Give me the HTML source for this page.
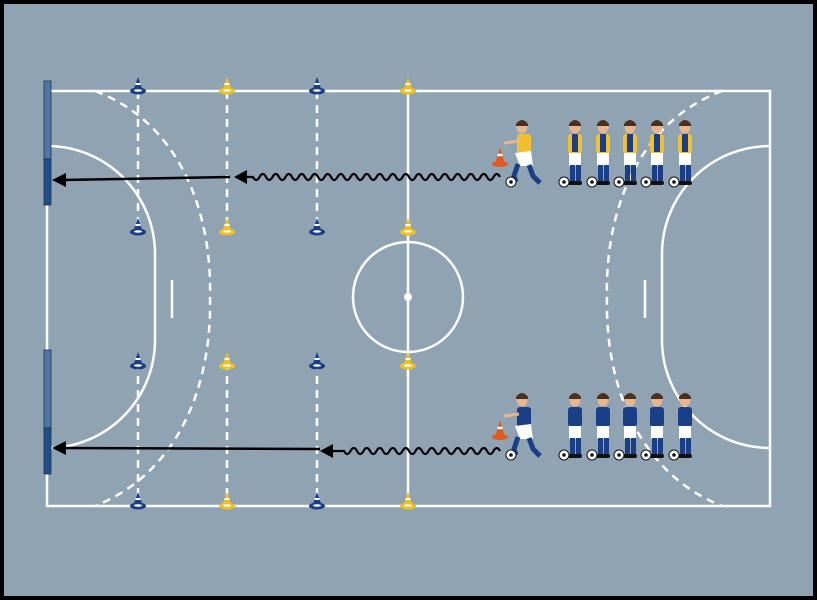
<!DOCTYPE html>
<html><head><meta charset="utf-8"><style>
html,body{margin:0;padding:0;background:#000;}
svg{display:block}
</style></head><body>
<svg id="s" width="817" height="600" viewBox="0 0 817 600" xmlns="http://www.w3.org/2000/svg">
<defs>
<g id="pl">
 <ellipse cx="0" cy="-59" rx="5.5" ry="6.5" fill="#e9b58f"/>
 <path d="M-6,-62 Q0,-70 6,-62 L6,-60 L-6,-60Z" fill="#4a3020"/>
 <rect x="-7" y="-52" width="14" height="20" rx="3" fill="var(--c)"/>
 <rect x="-3" y="-52" width="6" height="18" fill="#1b3f86"/>
 <rect x="-6" y="-33" width="12" height="13" fill="#fff"/>
 <rect x="-5" y="-21" width="5" height="16" fill="#1b3f86"/>
 <rect x="1" y="-21" width="5" height="16" fill="#1b3f86"/>
 <rect x="-7" y="-5" width="14" height="4" rx="2" fill="#111"/>
 <circle cx="-11" cy="-4" r="5" fill="#fff" stroke="#111" stroke-width="1"/>
 <circle cx="-11" cy="-4" r="1.8" fill="#111"/>
</g>
<g id="run">
 <ellipse cx="0" cy="-59" rx="5.5" ry="6.5" fill="#e9b58f"/>
 <path d="M-6,-62 Q0,-70 6,-62 L6,-60 L-6,-60Z" fill="#4a3020"/>
 <rect x="-5" y="-52" width="14" height="20" rx="3" fill="var(--c)"/>
 <line x1="-3" y1="-45" x2="-18" y2="-43" stroke="#e9b58f" stroke-width="3"/>
 <path d="M-7,-33 L9,-35 L11,-20 L-2,-20 Z" fill="#fff"/>
 <path d="M-4,-22 L-8,-10 L-6,-4" stroke="#1b3f86" stroke-width="5" fill="none"/>
 <path d="M7,-21 L11,-10 L18,-3" stroke="#1b3f86" stroke-width="5" fill="none"/>
 <circle cx="-11" cy="-4" r="5" fill="#fff" stroke="#111" stroke-width="1"/>
 <circle cx="-11" cy="-4" r="1.8" fill="#111"/>
 <path d="M-27,-22 L-22,-39 L-17,-22Z" fill="#e05a20"/>
 <ellipse cx="-22" cy="-22" rx="8" ry="3" fill="#e05a20"/>
 <line x1="-24.5" y1="-31" x2="-19.5" y2="-31" stroke="#fff" stroke-width="2.5"/>
</g>
<g id="cb"><path d="M-5,1 L0,-13 L5,1Z" fill="#1b3f86"/><ellipse cx="0" cy="1" rx="8" ry="3.5" fill="#1b3f86"/><line x1="-2.5" y1="-6" x2="2.5" y2="-6" stroke="#fff" stroke-width="2"/><ellipse cx="0" cy="0.5" rx="4" ry="1.3" fill="#fff"/></g>
<g id="cy"><path d="M-5,1 L0,-13 L5,1Z" fill="#f0c020"/><ellipse cx="0" cy="1" rx="8" ry="3.5" fill="#f0c020"/><line x1="-2.5" y1="-6" x2="2.5" y2="-6" stroke="#fff" stroke-width="2"/><ellipse cx="0" cy="0.5" rx="4" ry="1.3" fill="#fff"/></g>
</defs>
<rect x="2" y="2" width="813" height="596" fill="#8fa3b2" stroke="#000" stroke-width="4"/>
<g stroke="#fff" stroke-width="2.5" fill="none">
 <rect x="47" y="91" width="723" height="415"/>
 <line x1="408" y1="91" x2="408" y2="506"/>
 <circle cx="408" cy="297" r="55"/>
 <path d="M47,146 A108,108 0 0 1 155,254 L155,340 A108,108 0 0 1 47,448"/>
 <path d="M770,146 A108,108 0 0 0 662,254 L662,340 A108,108 0 0 0 770,448"/>
 <line x1="172" y1="280" x2="172" y2="318"/>
 <line x1="645" y1="280" x2="645" y2="318"/>
 <g stroke-dasharray="8,6">
  <path d="M95,91 C185,125 212,220 210,297 C212,375 185,470 95,506"/>
  <path d="M722,91 C632,125 605,220 607,297 C605,375 632,470 722,506"/>
  <line x1="138" y1="91" x2="138" y2="228"/><line x1="227" y1="91" x2="227" y2="228"/><line x1="317" y1="91" x2="317" y2="228"/>
  <line x1="138" y1="362" x2="138" y2="506"/><line x1="227" y1="362" x2="227" y2="506"/><line x1="317" y1="362" x2="317" y2="506"/>
 </g>
</g>
<circle cx="408" cy="297" r="4" fill="#fff"/>
<rect x="44" y="81" width="7" height="78" fill="#4d77a8" stroke="#234" stroke-width="0.8"/>
<rect x="44" y="159" width="7" height="46" fill="#1e4f8c" stroke="#234" stroke-width="0.8"/>
<rect x="44" y="350" width="7" height="78" fill="#4d77a8" stroke="#234" stroke-width="0.8"/>
<rect x="44" y="428" width="7" height="46" fill="#1e4f8c" stroke="#234" stroke-width="0.8"/>
<g>
 <use href="#cb" x="138" y="90"/><use href="#cy" x="227" y="90"/><use href="#cb" x="317" y="90"/><use href="#cy" x="408" y="90"/>
 <use href="#cb" x="138" y="231"/><use href="#cy" x="227" y="231"/><use href="#cb" x="317" y="231"/><use href="#cy" x="408" y="231"/>
 <use href="#cb" x="138" y="365"/><use href="#cy" x="227" y="365"/><use href="#cb" x="317" y="365"/><use href="#cy" x="408" y="365"/>
 <use href="#cb" x="138" y="505"/><use href="#cy" x="227" y="505"/><use href="#cb" x="317" y="505"/><use href="#cy" x="408" y="505"/>
</g>
<line x1="230" y1="177" x2="62" y2="180" stroke="#000" stroke-width="2.5"/>
<polygon points="52,180 66,173 66,187" fill="#000"/>
<line x1="320" y1="449" x2="62" y2="448" stroke="#000" stroke-width="2.5"/>
<polygon points="52,448 66,441 66,455" fill="#000"/>
<path id="w1" fill="none" stroke="#000" stroke-width="2.2"/>
<polygon points="234,177 247,170 247,184" fill="#000"/>
<path id="w2" fill="none" stroke="#000" stroke-width="2.2"/>
<polygon points="320,451 333,444 333,458" fill="#000"/>
<g style="--c:#f0c030">
 <use href="#run" x="522" y="186"/>
 <use href="#pl" x="575" y="186"/><use href="#pl" x="603" y="186"/><use href="#pl" x="630" y="186"/><use href="#pl" x="657" y="186"/><use href="#pl" x="685" y="186"/>
</g>
<g style="--c:#1b3f86">
 <use href="#run" x="522" y="459"/>
 <use href="#pl" x="575" y="459"/><use href="#pl" x="603" y="459"/><use href="#pl" x="630" y="459"/><use href="#pl" x="657" y="459"/><use href="#pl" x="685" y="459"/>
</g>
</svg>
<script>
function wave(id,x0,x1,y){var d="M"+x0+","+y,s=6.5;for(var x=x0;x-s*2>=x1;x-=s*2){d+=" q"+(-s/2)+","+(-6)+" "+(-s)+",0 q"+(-s/2)+","+(6)+" "+(-s)+",0";}
d+=" L"+x1+","+y;document.getElementById(id).setAttribute("d",d);}
wave("w1",500,245,177);wave("w2",500,332,451);
</script>
</body></html>
